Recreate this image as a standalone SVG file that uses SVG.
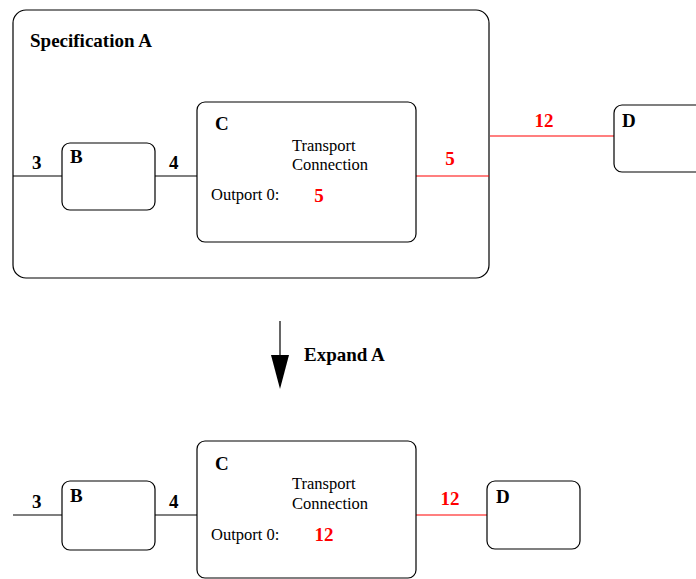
<svg xmlns="http://www.w3.org/2000/svg" width="696" height="579" viewBox="0 0 696 579">
<style>
.box{fill:#fff;stroke:#000;stroke-width:1.2}
.w{stroke:#000;stroke-width:1.2;fill:none}
.r{stroke:#f00;stroke-width:1.2;fill:none}
.b{font-family:"Liberation Serif",serif;font-weight:bold;font-size:19px;fill:#000}
.t{font-family:"Liberation Serif",serif;font-size:16.5px;fill:#000}
.rb{font-family:"Liberation Serif",serif;font-weight:bold;font-size:19px;fill:#f00;text-anchor:middle}
</style>
<rect width="696" height="579" fill="#fff"/>
<g id="specA">
<rect class="box" x="13" y="10" width="476" height="268" rx="13"/>
<text class="b" x="30" y="47">Specification A</text>
</g>
<g id="connectors">
<line class="w" x1="13" y1="176" x2="62" y2="176"/>
<line class="w" x1="155" y1="176" x2="197" y2="176"/>
<line class="r" x1="416" y1="176" x2="489" y2="176"/>
<line class="r" x1="490" y1="136" x2="614" y2="136"/>
<line class="w" x1="13" y1="515" x2="62" y2="515"/>
<line class="w" x1="155" y1="515" x2="197" y2="515"/>
<line class="r" x1="416" y1="515" x2="487" y2="515"/>
<text class="b" x="32" y="169">3</text>
<text class="b" x="169" y="169">4</text>
<text class="rb" x="450" y="165">5</text>
<text class="rb" x="544" y="127">12</text>
<text class="b" x="32" y="508">3</text>
<text class="b" x="169" y="508">4</text>
<text class="rb" x="450" y="505">12</text>
</g>
<g id="B1">
<rect class="box" x="62" y="143" width="93" height="67" rx="8"/>
<text class="b" x="70" y="163">B</text>
</g>
<g id="C1">
<rect class="box" x="197" y="102" width="219" height="140" rx="8"/>
<text class="b" x="215" y="130">C</text>
<text class="t" x="292" y="151">Transport</text>
<text class="t" x="292" y="170">Connection</text>
<text class="t" x="211" y="200">Outport 0:</text>
<text class="rb" x="319" y="202">5</text>
</g>
<g id="D1">
<rect class="box" x="614" y="105" width="100" height="67" rx="8"/>
<text class="b" x="622" y="127">D</text>
</g>
<g id="expand">
<line class="w" x1="280" y1="321" x2="280" y2="358" stroke-width="2"/>
<polygon points="271,355 289,355 280,389" fill="#000"/>
<text class="b" x="304" y="361">Expand A</text>
</g>
<g id="B2">
<rect class="box" x="62" y="481" width="93" height="69" rx="8"/>
<text class="b" x="70" y="502">B</text>
</g>
<g id="C2">
<rect class="box" x="197" y="441" width="219" height="137" rx="8"/>
<text class="b" x="215" y="470">C</text>
<text class="t" x="292" y="489">Transport</text>
<text class="t" x="292" y="509">Connection</text>
<text class="t" x="211" y="540">Outport 0:</text>
<text class="rb" x="324" y="541">12</text>
</g>
<g id="D2">
<rect class="box" x="487" y="481" width="93" height="68" rx="8"/>
<text class="b" x="496" y="503">D</text>
</g>
</svg>
